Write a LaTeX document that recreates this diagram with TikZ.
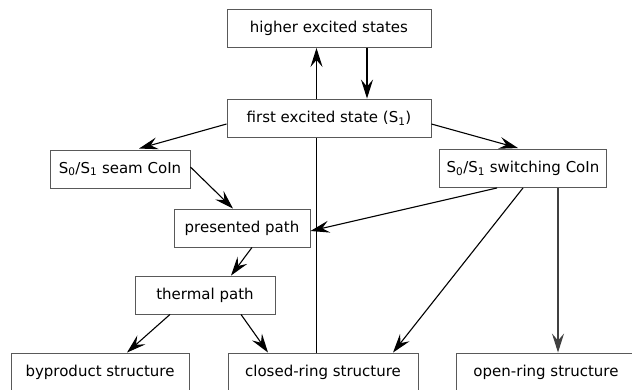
\documentclass[tikz,border=0pt]{standalone}
\usepackage{fontspec}
\setmainfont{DejaVu Sans}
\usepackage{tikz}
\usetikzlibrary{arrows.meta, backgrounds}
\tikzstyle{state}=[draw=black!65, line width=0.9pt, fill=white, minimum height=38pt,
  inner sep=0pt, font=\fontsize{15}{18}\selectfont]
\tikzstyle{arrow}=[-{Stealth[length=19pt, width=12pt, inset=7pt]}, line width=1.1pt, draw=black]
\tikzstyle{plainLine}=[line width=1.1pt, draw=black]
\newcommand{\Sidx}[1]{S\textsubscript{#1}}

\begin{document}
\begin{tikzpicture}[x=1pt, y=-1pt]
      \useasboundingbox (0,0) rectangle (632,389);
      \node[state, minimum width=204pt] (higher) at (329,28.5) {higher excited states};
      \node[state, minimum width=204pt] (first) at (329,118) {first excited state (\Sidx{1})};
      \node[state, minimum width=140pt] (seam) at (120,169) {\Sidx{0}/\Sidx{1} seam CoIn};
      \node[state, minimum width=167pt] (switching) at (523,168.5) {\Sidx{0}/\Sidx{1} switching CoIn};
      \node[state, minimum width=136pt] (presented) at (242,228) {presented path};
      \node[state, minimum width=140pt] (thermal) at (205,295) {thermal path};
      \node[state, minimum width=178pt] (byproduct) at (100,372) {byproduct structure};
      \node[state, minimum width=190pt] (closed) at (323,372) {closed-ring structure};
      \node[state, minimum width=180pt] (open) at (546,372) {open-ring structure};

      \begin{scope}[on background layer]
        \draw[arrow] ([xshift=-6.5pt]closed.north) -- ([xshift=-6.5pt]closed.north |- higher.south);
      \end{scope}
      \draw[arrow] ([xshift=38pt]higher.south) -- ([xshift=38pt]higher.south |- first.north);
      \draw[arrow] ([yshift=-6pt]first.west) -- ([xshift=19pt, yshift=1pt]seam.north);
      \draw[arrow] ([yshift=-6pt]first.east) -- ([xshift=-5pt, yshift=1pt]switching.north);
      \draw[arrow] ([yshift=2pt]seam.east) -- ([xshift=-9pt]presented.north);
      \draw[arrow] ([xshift=-26pt]switching.south) -- ([yshift=-3pt]presented.east);
      \draw[arrow] (switching.south) -- ([xshift=70pt]closed.north);
      \draw[arrow, draw=black!75] ([xshift=35pt]switching.south) -- ([xshift=35pt]switching.south |- open.north);
      \draw[arrow] ([xshift=10pt]presented.south) -- ([xshift=26pt]thermal.north);
      \draw[arrow] ([xshift=-35pt]thermal.south) -- ([xshift=27pt]byproduct.north);
      \draw[arrow] ([xshift=36pt]thermal.south) -- ([xshift=-55pt]closed.north);
    \end{tikzpicture}
\end{document}
